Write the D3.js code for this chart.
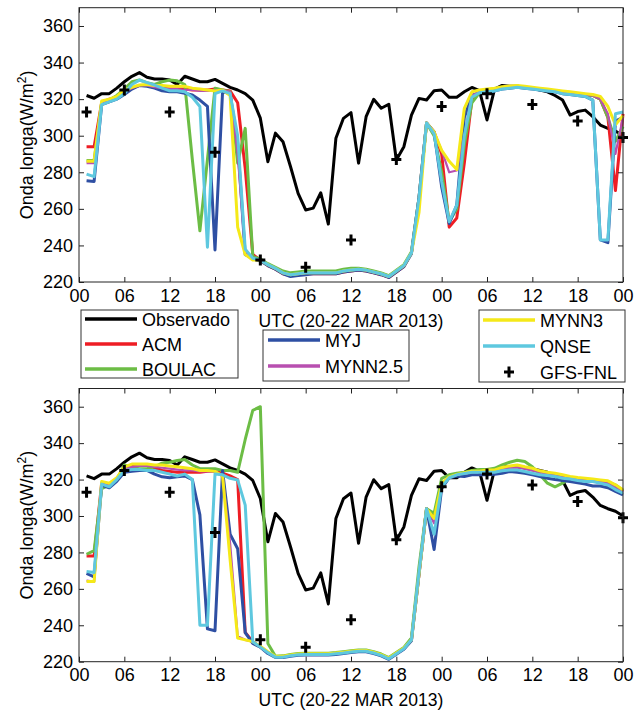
<!DOCTYPE html>
<html><head><meta charset="utf-8">
<script src="https://cdn.jsdelivr.net/npm/d3@7"></script>
<style>body{margin:0;background:#fff}svg{display:block;font-family:"Liberation Sans",Arial,Helvetica,sans-serif}</style>
</head><body>
<svg id="c" width="642" height="711"></svg>
<script>
// hours 1..72 (UTC 20-22 MAR 2013)
const hours = d3.range(1, 73);
const xTickVals = [0,6,12,18,24,30,36,42,48,54,60,66,72];
const xTickLabels = ["00","06","12","18","00","06","12","18","00","06","12","18","00"];
const yTickVals = [220,240,260,280,300,320,340,360];
const seriesNames = ["Observado","ACM","BOULAC","MYJ","MYNN2.5","MYNN3","QNSE"];

const obs = [322,320.5,323,323,326,329.5,332.5,334.5,332,331,331,330.5,328,332.5,331,329.5,329.5,330.8,328.6,326.4,325,323,319.5,309.6,285.8,301.4,296.7,283,268.5,259.4,260.4,268.8,251.7,298.6,309.5,312.6,285,310.4,319.9,315,317.2,286.7,294,311.3,320.4,319.5,324.6,325,321,321,324,326.4,324.6,308.6,325.5,327.5,327,327,326.5,326,325,324,322,319.5,311.3,313.2,314,310.4,305.8,304,302.6,300];

const gfsHours = [1,6,12,18,24,30,36,42,48,54,60,66,72];
const gfsVals = [313,325,313,291,232,228,243,287,316,323,317,308,299];

// top panel
const topACM = [294,294,318,320,321,324,326,327.5,327.5,326.5,326,325.5,325.5,325.5,325,325,325,325.5,325,324.5,318,282,235,232,229,227,224.5,223.5,224,224.5,224.5,224.5,224.5,224.5,225.5,226,226.5,226,225,224,222.5,225.5,228.5,236,266,307,302,290,250,255,285,320,324,324.5,325,326,326.5,327,326.5,326,325.5,325,324.5,324,323.5,323,322.5,322,320,310,270,312];
const topBOULAC = [286.5,286.5,318,319.5,322,325.5,329.5,330.5,329,328,329.5,330.4,330,328,287,248,287,326,325,324,285,304,234,232.5,230,228,226,225,225.5,226,226,226,226,226,227,227.5,227.5,227,226,225,223.5,226.5,229.5,236.5,266,307,300,280,253,260,295,318,323.5,324.5,325,326,326.5,327,326.5,326,325.5,325,324.5,324,323.5,323,322.5,322,320,310,297,305];
const topMYJ = [275.4,275,317,318.5,320,322.5,325.5,327.5,327,326,324.6,324,324,323.2,322.3,319.5,316,237.5,324,323,296,235,233,231.5,229,227,224.5,223,223.5,224,224.5,224.5,224.5,224.5,225.5,226,226.5,226,225,224,222.5,225.5,228.5,235.5,266,307,302,272,252,262,310,322,323.5,324,324.5,325.5,326,326.5,326,325.5,325,324.5,324,323,322.5,322,321.5,319.5,243,241.5,308,310];
const topMYNN25 = [285,285,318,319.5,321,324,326,327.5,327.5,326.5,326,325.5,325.5,325,325,324.5,324.5,325,325,324,290,236,233,232,229.5,227.5,225,224,224.5,225,225,225,225,225,226,226.5,227,226.5,225.5,224.5,223,226,229,236,264,307,302,292,280,281,300,322,324,324.5,325,326,326.5,327,326.5,326,325.5,325,324.5,324,323.5,323,322.5,322,320,312,290,310];
const topMYNN3 = [286,286,319,320,321.5,325,326.5,327.7,328,327.5,327.5,327,327,327,326,325.5,325,324.5,325,322,250,235,232,232,229.5,227.5,225,224,224.5,225,225,225,225,225,226,226.5,227,226.5,225.5,224.5,223,226,229,236,258,307,302,292,286,281.5,315,324,325,325.5,326,326.8,327.2,327.5,327,326.5,326,325.5,325,324.5,324,323.5,323,322.5,321.5,316,306,311];
const topQNSE = [279,277.6,317,318.5,320,323,328,330.4,329,327.7,326,324.6,324.6,324,321,316,239,323,324.5,323,300,238,233,232,229.5,227.5,225,224,224.5,225,225,225,225,225,226,226.5,227,226.5,225.5,224.5,223,226,229,236,266,307,301,275,253,262,300,321,323.5,324,324.5,325.5,326,326.5,326,325.5,325,324.5,324,323,322.5,322,321.5,319.5,243,243,312,313];

// bottom panel
const botACM = [278,278,318,317,320,326,327,328,328,326.5,325,324.5,324,324,324,324,324.5,324.5,323.5,322,320,236,231,228,225,222.8,222.8,223.5,224,224.2,224.2,224.2,224.2,224.6,225,225.5,225.9,225.9,225,223.7,221.8,224.6,227.3,232,268,304,300,317,321,322.6,323.5,324.4,324.4,324.4,324.4,326.2,327,327.2,326.2,325.3,324.4,323.5,322.6,322.2,321,320.3,320,319.4,319,318.5,316,313.4];
const botBOULAC = [279,281,315,317,320,328,326.5,326,326,327,329,329.5,330.5,331,328,326,326,326,325,325,324,342,358,360,230,223,223.2,224,224.5,224.7,224.7,224.7,224.7,225,225.5,226,226.4,226.4,225.5,224.2,222.3,225.1,227.8,233,272,304,301.5,320.7,322.6,323.5,324,325,325.5,325.5,326.2,328,329.5,330.6,329.9,327,322.6,318,316,318,321,320.5,320,319.5,319,318.5,317,314];
const botMYJ = [268.5,266.5,317,315.5,319,324,324.5,325,325,323,321.5,321,321.5,322,320,300.6,238,237,325,290,282,236,230,228,224.5,222.3,222.3,223,223.5,223.7,223.7,223.7,223.7,224,224.5,225,225.4,225.4,224.5,223.2,221.3,224.1,226.8,231.5,268,304,281.6,315,321,322,321.7,322.6,322.6,322.6,322.9,323.5,324.4,324,323.5,322.6,321.7,320.7,320,319.5,318.9,318.2,317.5,316.5,316.5,315.5,313.5,311.6];
const botMYNN25 = [264.5,264,318,317,320,326,327,327.5,327.5,327,326.5,326,325.5,325,325,324.5,324.5,324,322,285,234,232,231,228.5,225.3,222.8,222.8,223.5,224,224.2,224.2,224.2,224.2,224.6,225,225.5,225.9,225.9,225,223.7,221.8,224.6,227.3,232,268,304,296,317,321,322.6,323.5,324.4,324.4,324.6,324.6,325.8,326.5,326.8,326,325,324,323.3,322.6,322,321,320.3,319.8,319.2,318.8,318,315.5,313];
const botMYNN3 = [264,264,319,318,321,327,328.5,328.5,328.5,328,328,327.5,327,326.5,326,325,325,324.5,322,276,233,232,231,228.5,225.5,223,223,223.7,224.2,224.4,224.4,224.4,224.4,224.8,225.2,225.7,226.1,226.1,225.2,223.9,222,224.8,227.5,232,268,304,298.7,318,321.5,322.8,323.8,324.6,324.6,325.3,325.3,326.6,327.5,328,327,326.2,324.8,324,323.5,322.6,321.7,321.1,320.7,320.3,319.8,319.3,317.1,314.4];
const botQNSE = [269.5,269,317.5,316,320,325,325.5,325.5,325,325,324,323,322,323,320,240,240,323,322.6,320.7,319.8,306,231,228,225,222.5,222.5,223.3,223.8,224,224,224,224,224.4,224.8,225.3,225.7,225.7,224.8,223.5,221.6,224.4,227.1,232,269,304,290,316,321,322.6,323.3,324,324,324,324,324.8,325.3,325.3,324.4,323.5,322.6,322.2,321.7,320.7,320.3,319.5,318.9,318.9,318,317,314.5,312.5];

const colors = ["#000000","#ee1d24","#6cbd45","#2e4fa3","#b84fb0","#f5e918","#5ec8df"];
const widths = [3,3,3,3,2.2,3,3];

const svg = d3.select("#c");
const x = d3.scaleLinear().domain([0,72]).range([79,623]);
const FONT = 18;

const panels = [
  {top:7.7, bottom:282, data:[obs, topACM, topBOULAC, topMYJ, topMYNN25, topMYNN3, topQNSE], utcY:327},
  {top:388.5, bottom:661.7, data:[obs, botACM, botBOULAC, botMYJ, botMYNN25, botMYNN3, botQNSE], utcY:706}
];

panels.forEach(p => {
  const y = d3.scaleLinear().domain([220,370]).range([p.bottom, p.top]);
  const g = svg.append("g");
  const line = d3.line().x((d,i)=>x(hours[i])).y(d=>y(d));
  p.data.forEach((arr, k) => {
    g.append("path").attr("d", line(arr)).attr("fill","none")
      .attr("stroke", colors[k]).attr("stroke-width", widths[k])
      .attr("stroke-linejoin","round");
  });
  g.selectAll(".gfs").data(gfsHours).enter().append("path")
    .attr("transform",(d,i)=>`translate(${x(d)},${y(gfsVals[i])})`)
    .attr("d","M-5,0H5M0,-5.5V5.5").attr("stroke","#000").attr("stroke-width",3);

  // frame
  g.append("rect").attr("x",x(0)).attr("y",p.top).attr("width",x(72)-x(0)).attr("height",p.bottom-p.top)
    .attr("fill","none").attr("stroke","#222").attr("stroke-width",1);

  const styleAxis = sel => { sel.select(".domain").remove(); sel.selectAll("line").attr("stroke","#222");
    sel.selectAll("text").attr("font-size",FONT).attr("fill","#000").attr("font-family",'"Liberation Sans",Arial,sans-serif'); };

  svg.append("g").attr("transform",`translate(${x(0)},0)`)
    .call(d3.axisLeft(y).tickValues(yTickVals).tickSize(-5).tickPadding(6)).call(styleAxis);
  svg.append("g").attr("transform",`translate(${x(72)},0)`)
    .call(d3.axisRight(y).tickValues(yTickVals).tickSize(-5).tickFormat("")).call(styleAxis);
  svg.append("g").attr("transform",`translate(0,${p.bottom})`)
    .call(d3.axisBottom(x).tickValues(xTickVals).tickSize(-5).tickPadding(7).tickFormat((d,i)=>xTickLabels[i])).call(styleAxis);
  svg.append("g").attr("transform",`translate(0,${p.top})`)
    .call(d3.axisTop(x).tickValues(xTickVals).tickSize(-5).tickFormat("")).call(styleAxis);

  const cy = (p.top+p.bottom)/2;
  const yl = svg.append("text").attr("transform",`translate(33,${cy}) rotate(-90)`)
    .attr("text-anchor","middle").attr("font-size",FONT);
  yl.append("tspan").text("Onda longa(W/m");
  yl.append("tspan").attr("dy",-7).attr("font-size",12).text("2");
  yl.append("tspan").attr("dy",7).text(")");

  svg.append("text").attr("x",351).attr("y",p.utcY).attr("text-anchor","middle")
    .attr("font-size",17.5).text("UTC (20-22 MAR 2013)");
});

// legends
const legends = [
  {x0:81, y0:310, x1:238, y1:378, rows:[0,1,2], ys:[319,344,369], lx0:85, lx1:137, tx:142},
  {x0:263, y0:330, x1:409, y1:381, rows:[3,4], ys:[340,366], lx0:268, lx1:320, tx:325},
  {x0:479, y0:310, x1:625, y1:382, rows:[5,6,-1], ys:[320,346,372], lx0:483, lx1:535, tx:540}
];
legends.forEach(L => {
  const g = svg.append("g");
  g.append("rect").attr("x",L.x0).attr("y",L.y0).attr("width",L.x1-L.x0).attr("height",L.y1-L.y0)
    .attr("fill","#fff").attr("stroke","#333").attr("stroke-width",1);
  L.rows.forEach((k,i) => {
    const yy = L.ys[i];
    if (k >= 0) {
      g.append("line").attr("x1",L.lx0).attr("x2",L.lx1).attr("y1",yy).attr("y2",yy)
        .attr("stroke",colors[k]).attr("stroke-width",3.5);
      g.append("text").attr("x",L.tx).attr("y",yy+6.5).attr("font-size",FONT).text(seriesNames[k]);
    } else {
      g.append("path").attr("transform",`translate(${(L.lx0+L.lx1)/2},${yy})`)
        .attr("d","M-5,0H5M0,-5.5V5.5").attr("stroke","#000").attr("stroke-width",3);
      g.append("text").attr("x",L.tx).attr("y",yy+6.5).attr("font-size",FONT).text("GFS-FNL");
    }
  });
});
</script>
</body></html>
